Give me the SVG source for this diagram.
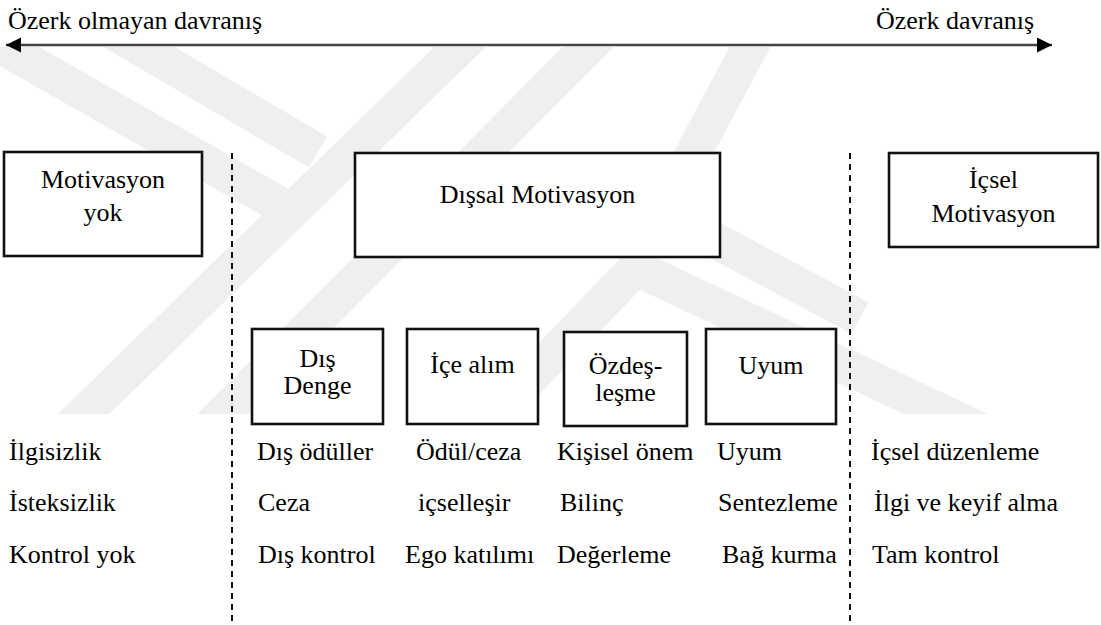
<svg xmlns="http://www.w3.org/2000/svg" width="1101" height="625" viewBox="0 0 1101 625">
<style>
.t{font-family:'Liberation Serif',Tinos,'Noto Serif','DejaVu Serif',FreeSerif,'Times New Roman',Times,serif;font-size:26px;fill:#000}
.m{text-anchor:middle}
.box{fill:#fff;stroke:#111;stroke-width:2.6}
.dash{stroke:#111;stroke-width:2;stroke-dasharray:6 5;fill:none}
.wm{fill:none;stroke:#efefef;stroke-width:36;stroke-linejoin:miter;stroke-linecap:butt}
</style>
<defs>
<clipPath id="wmclip"><rect x="0" y="47" width="1101" height="367"/></clipPath>
<marker id="ah" markerWidth="16" markerHeight="16" refX="15" refY="7.5" orient="auto-start-reverse" markerUnits="userSpaceOnUse">
<path d="M0,0 L15,7.5 L0,15 Z" fill="#000"/>
</marker>
</defs>
<rect width="1101" height="625" fill="#fff"/>
<g id="watermark" clip-path="url(#wmclip)">
<path class="wm" d="M-20,34 L282,206"/>
<path class="wm" d="M100,24 L318,152"/>
<path class="wm" d="M508,0 L60,437"/>
<path class="wm" d="M635,0 L203,434"/>
<path class="wm" d="M775,0 L662,212 L860,318"/>
<path class="wm" d="M480,430 L636,268 L980,430"/>
</g>
<g id="connectors">
<line x1="6" y1="45" x2="1052" y2="45" stroke="#444" stroke-width="2.3" marker-start="url(#ah)" marker-end="url(#ah)"/>
</g>
<g id="separators">
<line class="dash" x1="232" y1="153" x2="232" y2="625"/>
<line class="dash" x1="850" y1="153" x2="850" y2="625"/>
</g>
<g id="label-left"><text class="t" x="8" y="29">Özerk olmayan davranış</text></g>
<g id="label-right"><text class="t" x="876" y="29">Özerk davranış</text></g>
<g id="motivasyon-yok">
<rect class="box" x="4" y="152" width="198" height="104"/>
<text class="t m" x="103" y="188">Motivasyon</text>
<text class="t m" x="103" y="221">yok</text>
</g>
<g id="dissal-motivasyon">
<rect class="box" x="355" y="153" width="365" height="104"/>
<text class="t m" x="537.5" y="203">Dışsal Motivasyon</text>
</g>
<g id="icsel-motivasyon">
<rect class="box" x="889" y="153" width="209" height="94"/>
<text class="t m" x="993.5" y="188">İçsel</text>
<text class="t m" x="993.5" y="222">Motivasyon</text>
</g>
<g id="dis-denge">
<rect class="box" x="252" y="329" width="131" height="95"/>
<text class="t m" x="317.5" y="367">Dış</text>
<text class="t m" x="317.5" y="394">Denge</text>
</g>
<g id="ice-alim">
<rect class="box" x="407" y="329" width="131" height="95"/>
<text class="t m" x="472.5" y="373">İçe alım</text>
</g>
<g id="ozdeslesme">
<rect class="box" x="564" y="332" width="123" height="94"/>
<text class="t m" x="625.5" y="374">Özdeş-</text>
<text class="t m" x="625.5" y="401">leşme</text>
</g>
<g id="uyum">
<rect class="box" x="706" y="329" width="130" height="95"/>
<text class="t m" x="771" y="374">Uyum</text>
</g>
<g id="col-motivasyon-yok">
<text class="t" x="9" y="460">İlgisizlik</text>
<text class="t" x="9" y="511">İsteksizlik</text>
<text class="t" x="9" y="563">Kontrol yok</text>
</g>
<g id="col-dis-denge">
<text class="t" x="257" y="460">Dış ödüller</text>
<text class="t" x="258" y="511">Ceza</text>
<text class="t" x="258" y="563">Dış kontrol</text>
</g>
<g id="col-ice-alim">
<text class="t" x="416" y="460">Ödül/ceza</text>
<text class="t" x="418" y="511">içselleşir</text>
<text class="t" x="405" y="563">Ego katılımı</text>
</g>
<g id="col-ozdeslesme">
<text class="t" x="557" y="460">Kişisel önem</text>
<text class="t" x="560" y="511">Bilinç</text>
<text class="t" x="557" y="563">Değerleme</text>
</g>
<g id="col-uyum">
<text class="t" x="717" y="460">Uyum</text>
<text class="t" x="718" y="511">Sentezleme</text>
<text class="t" x="722" y="563">Bağ kurma</text>
</g>
<g id="col-icsel">
<text class="t" x="871" y="460">İçsel düzenleme</text>
<text class="t" x="874" y="511">İlgi ve keyif alma</text>
<text class="t" x="872" y="563">Tam kontrol</text>
</g>
</svg>
